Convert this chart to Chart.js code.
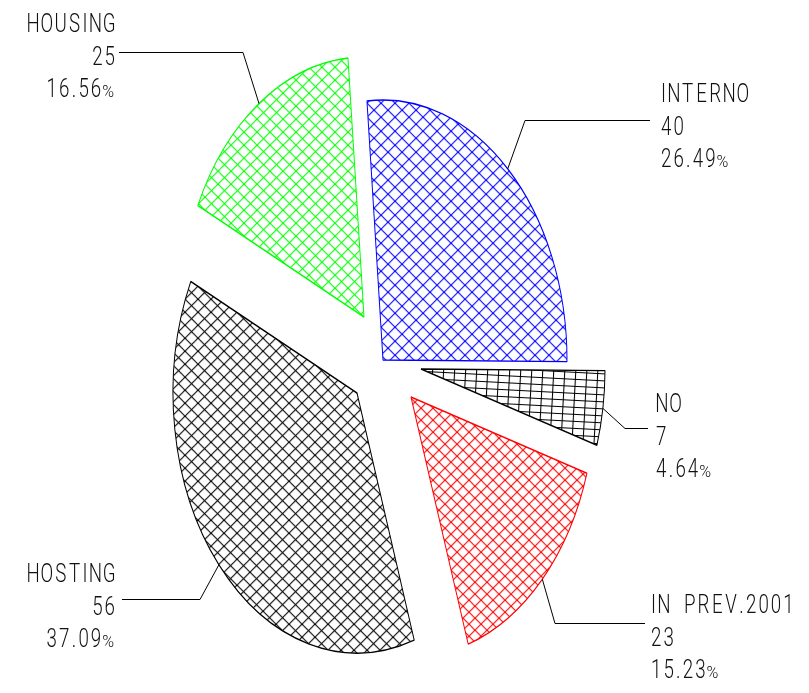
<!DOCTYPE html>
<html><head><meta charset="utf-8">
<script src="https://cdn.jsdelivr.net/npm/chart.js@4.4.1/dist/chart.umd.min.js"></script>
<style>html,body{margin:0;padding:0;background:#fff}canvas{display:block}</style>
</head><body>
<canvas id="c" width="809" height="693"></canvas>
<script>
// ---- data ----
const categories = ['INTERNO', 'NO', 'IN PREV.2001', 'HOSTING', 'HOUSING'];
const values = [40, 7, 23, 56, 25];
const sliceColors = ['#0000ff', '#000000', '#ff0000', '#000000', '#00ff00'];

// ---- style / layout ----
const yStretch = 260 / 184;            // the pie is drawn as a vertical ellipse
const explode = [[3, -10], [41, -1], [31, 27], [-23, 23], [-16, -53]];
const labelLayout = [
  {side: 'right', x: 661, y: 102, elbow: 525, lead: 120.5, lineEnd: 650},
  {side: 'right', x: 656, y: 412, elbow: 625, lead: 428.5, lineEnd: 648},
  {side: 'right', x: 651, y: 613, elbow: 555, lead: 623.5, lineEnd: 645},
  {side: 'left',  x: 115, y: 582, elbow: 200, lead: 599.5, lineEnd: 122},
  {side: 'left',  x: 115, y: 32,  elbow: 243, lead: 52.5,  lineEnd: 119}
];
const lineGap = 32.5;
const GLYPH_SX = 0.72;      // horizontal squeeze of each glyph
const FONT = '300 26px Roboto, "Liberation Sans", sans-serif';
const PCT_FONT = '300 16px Roboto, "Liberation Sans", sans-serif';
function cellWidth(ch) {     // CAD-style character advance
  if (ch === 'I' || ch === '.') return 7;
  if (ch === ' ') return 12;
  if (ch >= '0' && ch <= '9') return 12.4;
  return 13.8;
}

const total = values.reduce((a, b) => a + b, 0);
const pct = i => (values[i] / total * 100).toFixed(2) + '%';

const baseCtx = document.getElementById('c').getContext('2d');
function diagHatch(color, size) {
  const c = document.createElement('canvas');
  c.width = c.height = size;
  const g = c.getContext('2d');
  g.strokeStyle = color; g.lineWidth = 1.1;
  g.beginPath();
  g.moveTo(-1, -1); g.lineTo(size + 1, size + 1);
  g.moveTo(-1, size + 1); g.lineTo(size + 1, -1);
  g.stroke();
  const p = baseCtx.createPattern(c, 'repeat');
  p.setTransform(new DOMMatrix().scale(1, 1 / yStretch));
  return p;
}
function gridHatch(color, w, h, deg) {
  const c = document.createElement('canvas');
  c.width = w; c.height = h;
  const g = c.getContext('2d');
  g.strokeStyle = color; g.lineWidth = 1.1;
  g.beginPath();
  g.moveTo(0.5, 0); g.lineTo(0.5, h);
  g.moveTo(0, 0.5); g.lineTo(w, 0.5);
  g.stroke();
  const p = baseCtx.createPattern(c, 'repeat');
  p.setTransform(new DOMMatrix().scale(1, 1 / yStretch).rotate(deg));
  return p;
}
const fills = [
  diagHatch(sliceColors[0], 14),
  gridHatch(sliceColors[1], 11, 7, 3),
  diagHatch(sliceColors[2], 12),
  diagHatch(sliceColors[3], 13),
  diagHatch(sliceColors[4], 13)
];

function drawCadText(ctx, text, x, y, side) {
  ctx.save();
  const hasPct = text.endsWith('%');
  const main = hasPct ? text.slice(0, -1) : text;
  ctx.font = PCT_FONT;
  const pw = hasPct ? ctx.measureText('%').width + 2 : 0;
  let tw = pw;
  for (const ch of main) tw += cellWidth(ch);
  const x0 = side === 'left' ? x - tw + 1 : x - 1;
  ctx.fillStyle = '#111';
  ctx.textBaseline = 'alphabetic';
  ctx.font = FONT;
  ctx.textAlign = 'center';
  let cx = x0;
  for (const ch of main) {
    const w = cellWidth(ch);
    ctx.save();
    ctx.translate(cx + w / 2, y);
    ctx.scale(GLYPH_SX, 1);
    ctx.fillText(ch, 0, 0);
    ctx.restore();
    cx += w;
  }
  if (hasPct) {
    ctx.font = PCT_FONT;
    ctx.textAlign = 'left';
    ctx.fillText('%', cx, y);
  }
  ctx.restore();
}

const ellipsePie = {
  id: 'ellipsePie',
  beforeDatasetDraw(chart, args) {
    const ctx = chart.ctx;
    args.meta.data.forEach((arc, i) => {
      ctx.save();
      ctx.translate(explode[i][0], explode[i][1]);
      ctx.translate(arc.x, arc.y);
      ctx.scale(1, yStretch);
      ctx.translate(-arc.x, -arc.y);
      arc.draw(ctx, chart.chartArea);
      ctx.restore();
    });
    return false;
  },
  afterDatasetsDraw(chart) {
    const ctx = chart.ctx;
    const meta = chart.getDatasetMeta(0);
    meta.data.forEach((arc, i) => {
      const L = labelLayout[i];
      const mid = (arc.startAngle + arc.endAngle) / 2;
      const sx = arc.x + explode[i][0] + Math.cos(mid) * arc.outerRadius;
      const sy = arc.y + explode[i][1] + Math.sin(mid) * arc.outerRadius * yStretch;
      ctx.save();
      ctx.strokeStyle = '#000';
      ctx.lineWidth = 1;
      ctx.beginPath();
      ctx.moveTo(sx, sy);
      ctx.lineTo(L.elbow, L.lead);
      ctx.lineTo(L.lineEnd, L.lead);
      ctx.stroke();
      ctx.restore();
      [categories[i], String(values[i]), pct(i)].forEach((t, j) =>
        drawCadText(ctx, t, L.x, L.y + j * lineGap, L.side));
    });
  }
};

new Chart(baseCtx, {
  type: 'pie',
  data: {
    labels: categories,
    datasets: [{
      data: values,
      backgroundColor: fills,
      borderColor: sliceColors,
      borderWidth: 1,
      radius: 184
    }]
  },
  options: {
    responsive: false,
    animation: false,
    events: [],
    rotation: -5,
    layout: {padding: {left: 0, right: 49, top: 47, bottom: 0}},
    plugins: {legend: {display: false}, tooltip: {enabled: false}}
  },
  plugins: [ellipsePie]
});
</script>
</body></html>
